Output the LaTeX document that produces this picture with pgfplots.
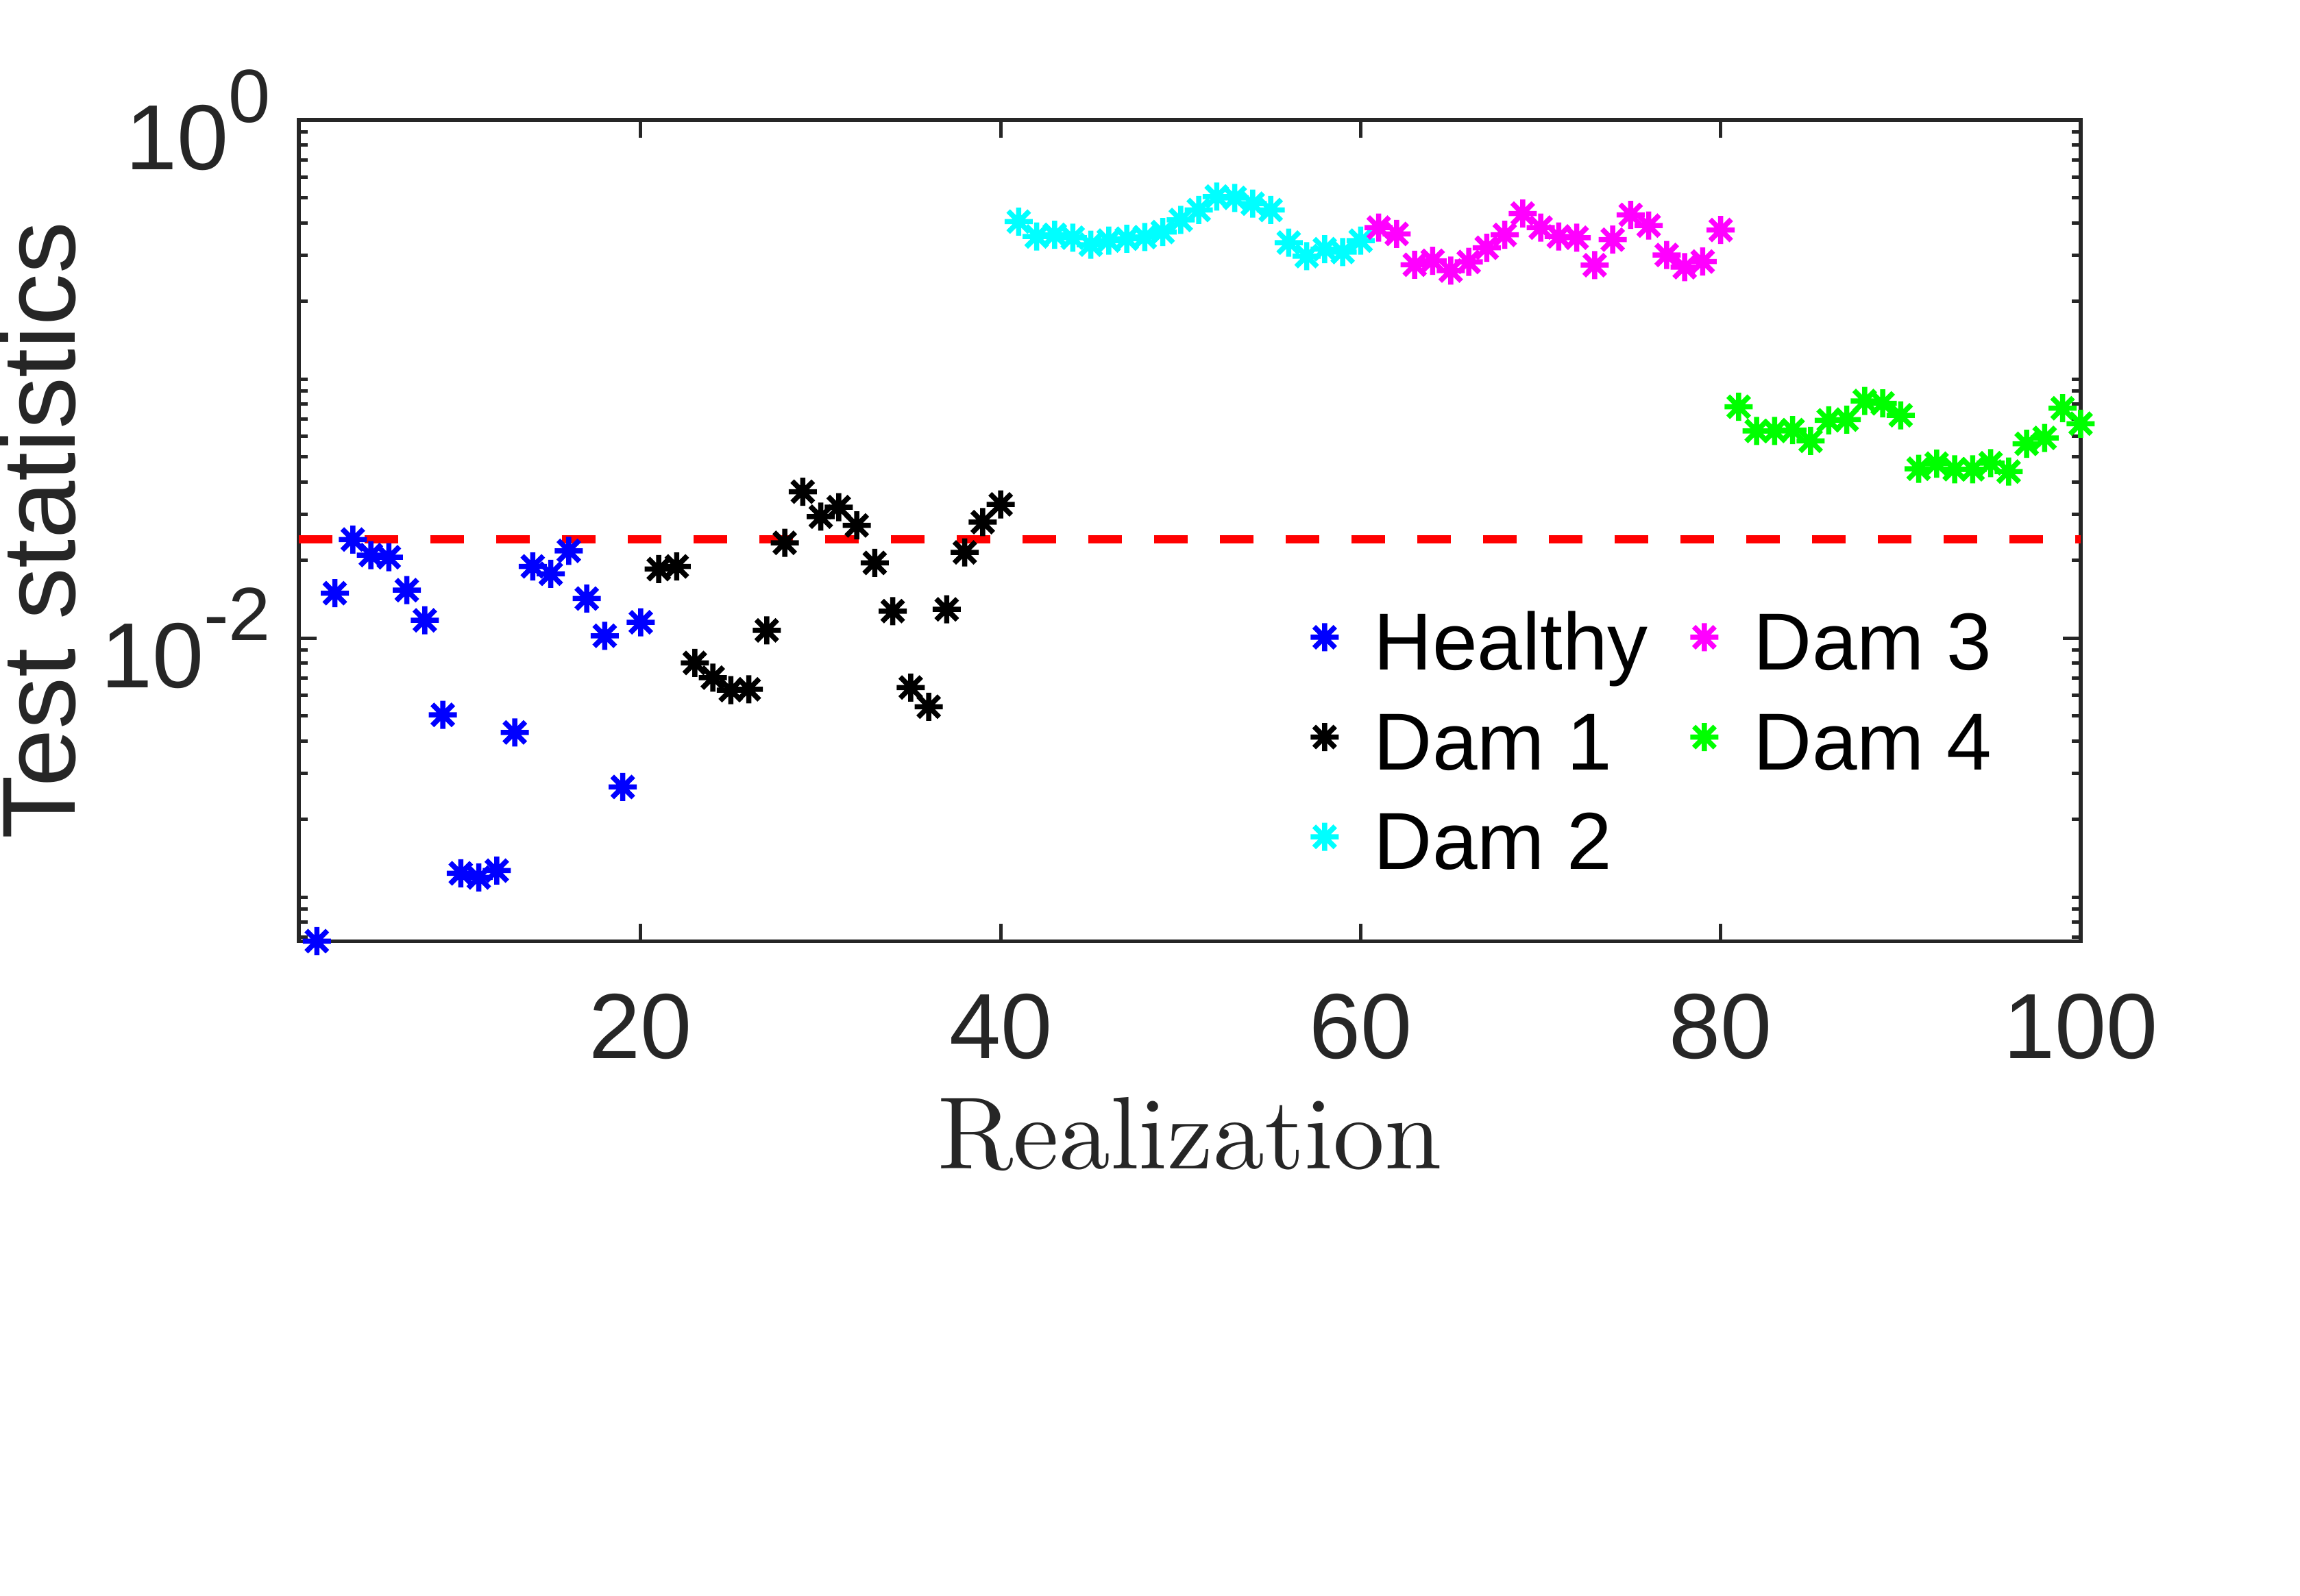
\documentclass[border=0pt]{standalone}
\usepackage{fontspec}
\usepackage{graphicx}
\usepackage{pgfplots}
\pgfplotsset{compat=1.18}
\newfontfamily\arial{Liberation Sans}
\definecolor{axgray}{rgb}{0.15,0.15,0.15}
\definecolor{mblue}{rgb}{0,0,1}
\definecolor{mcyan}{rgb}{0,1,1}
\definecolor{mmagenta}{rgb}{1,0,1}
\definecolor{mgreen}{rgb}{0,1,0}
\definecolor{mred}{rgb}{1,0,0}

\pgfdeclareplotmark{mstar}{%
  \pgfpathmoveto{\pgfpoint{0pt}{\pgfplotmarksize}}%
  \pgfpathlineto{\pgfpoint{0pt}{-\pgfplotmarksize}}%
  \pgfpathmoveto{\pgfpoint{\pgfplotmarksize}{0pt}}%
  \pgfpathlineto{\pgfpoint{-\pgfplotmarksize}{0pt}}%
  \pgfpathmoveto{\pgfpoint{0.75\pgfplotmarksize}{0.75\pgfplotmarksize}}%
  \pgfpathlineto{\pgfpoint{-0.75\pgfplotmarksize}{-0.75\pgfplotmarksize}}%
  \pgfpathmoveto{\pgfpoint{0.75\pgfplotmarksize}{-0.75\pgfplotmarksize}}%
  \pgfpathlineto{\pgfpoint{-0.75\pgfplotmarksize}{0.75\pgfplotmarksize}}%
  \pgfusepathqstroke}

\newcommand{\tenpow}[1]{10\raisebox{6.9pt}{\fontsize{11}{11}\selectfont #1}}

\pgfplotstableread{
x y
2 6.76e-4
3 0.0149
4 0.0240
5 0.0209
6 0.0205
7 0.0153
8 0.0117
9 0.00505
10 0.001235
11 0.00119
12 0.001265
13 0.00432
14 0.0189
15 0.0177
16 0.0217
17 0.0142
18 0.0102
19 0.00266
20 0.0115
}\healthy

\pgfplotstableread{
x y
21 0.01845
22 0.0189
23 0.00801
24 0.00703
25 0.00629
26 0.00634
27 0.0107
28 0.0233
29 0.0367
30 0.0294
31 0.0320
32 0.0272
33 0.0195
34 0.0127
35 0.00644
36 0.00543
37 0.0129
38 0.0214
39 0.0280
40 0.0328
}\damone

\pgfplotstableread{
x y
41 0.405
42 0.355
43 0.360
44 0.351
45 0.330
46 0.342
47 0.348
48 0.353
49 0.369
50 0.411
51 0.449
52 0.506
53 0.500
54 0.475
55 0.449
56 0.336
57 0.298
58 0.317
59 0.309
60 0.342
}\damtwo

\pgfplotstableread{
x y
61 0.384
62 0.363
63 0.276
64 0.286
65 0.262
66 0.283
67 0.321
68 0.360
69 0.435
70 0.384
71 0.355
72 0.351
73 0.275
74 0.345
75 0.430
76 0.391
77 0.301
78 0.270
79 0.284
80 0.376
}\damthree

\pgfplotstableread{
x y
81 0.0781
82 0.0630
83 0.0630
84 0.0635
85 0.0577
86 0.0692
87 0.0697
88 0.0822
89 0.0805
90 0.0724
91 0.0450
92 0.0471
93 0.0448
94 0.0448
95 0.0473
96 0.0439
97 0.0562
98 0.0592
99 0.0771
100 0.0672
}\damfour

\begin{document}
\begin{tikzpicture}
\path[use as bounding box] (-43.6pt,-95.55pt) rectangle (292pt,137.35pt);
\begin{axis}[
  at={(0,0)}, anchor=south west,
  scale only axis, width=260pt, height=119.85pt,
  xmin=1, xmax=100,
  ymode=log, ymin=6.753e-4, ymax=1,
  xtick={20,40,60,80,100}, xticklabels={20,40,60,80,100},
  ytick={0.01,1}, yticklabels={\tenpow{-2},\tenpow{0}},
  minor ytick={7e-4,8e-4,9e-4,1e-3,2e-3,3e-3,4e-3,5e-3,6e-3,7e-3,8e-3,9e-3,2e-2,3e-2,4e-2,5e-2,6e-2,7e-2,8e-2,9e-2,0.1,0.2,0.3,0.4,0.5,0.6,0.7,0.8,0.9},
  axis line style={axgray, line width=0.55pt},
  tick style={axgray, line width=0.5pt},
  major tick length=2.6pt, minor tick length=1.33pt,
  xticklabel style={font=\arial\fontsize{13.5}{16}\selectfont, text=axgray, inner sep=0pt, yshift=-7.5pt},
  yticklabel style={font=\arial\fontsize{13.5}{16}\selectfont, text=axgray, inner sep=0pt, xshift=-3.9pt},
  xlabel={\scalebox{1.5}{Realization}},
  xlabel style={font=\fontsize{10}{12}\selectfont, text=axgray, at={(axis description cs:0.5,-0.2766)}, anchor=base},
  ylabel={Test statistics},
  ylabel style={font=\arial\fontsize{15.15}{18}\selectfont, text=axgray, at={(axis description cs:-0.1254,0.5)}, anchor=base},
  clip=false,
  legend columns=2,
  legend cell align=left,
  legend style={draw=none, fill=none, at={(0.5642,0.4308)}, anchor=north west,
    inner sep=0pt, outer sep=0pt, font=\arial\fontsize{11.8}{14}\selectfont,
    column sep=0pt, row sep=0pt,
    /tikz/every even column/.append style={column sep=5.2pt},
    nodes={inner sep=0pt, text height=12.03pt, text depth=2.53pt}},
  legend image code/.code={\path[draw=none,fill=none] (-3pt,-3pt) rectangle (7.2pt,3pt); \draw[#1] plot coordinates {(0pt,0pt)};},
  mystar/.style={only marks, mark=mstar, mark size=2.05pt, mark options={solid, line width=0.75pt}},
]
\addlegendimage{mystar, color=mblue}
\addlegendimage{mystar, color=mmagenta}
\addlegendimage{mystar, color=black}
\addlegendimage{mystar, color=mgreen}
\addlegendimage{mystar, color=mcyan}
\legend{Healthy, Dam 3, Dam 1, Dam 4, Dam 2}

\addplot[mystar, color=mblue, forget plot] table[x=x,y=y] {\healthy};
\addplot[mystar, color=black, forget plot] table[x=x,y=y] {\damone};
\addplot[mystar, color=mcyan, forget plot] table[x=x,y=y] {\damtwo};
\addplot[mystar, color=mmagenta, forget plot] table[x=x,y=y] {\damthree};
\addplot[mystar, color=mgreen, forget plot] table[x=x,y=y] {\damfour};
\addplot[mred, line width=1.2pt, dash pattern=on 4.9pt off 4.7pt, forget plot] coordinates {(1,0.0240) (100,0.0240)};
\end{axis}
\end{tikzpicture}
\end{document}
